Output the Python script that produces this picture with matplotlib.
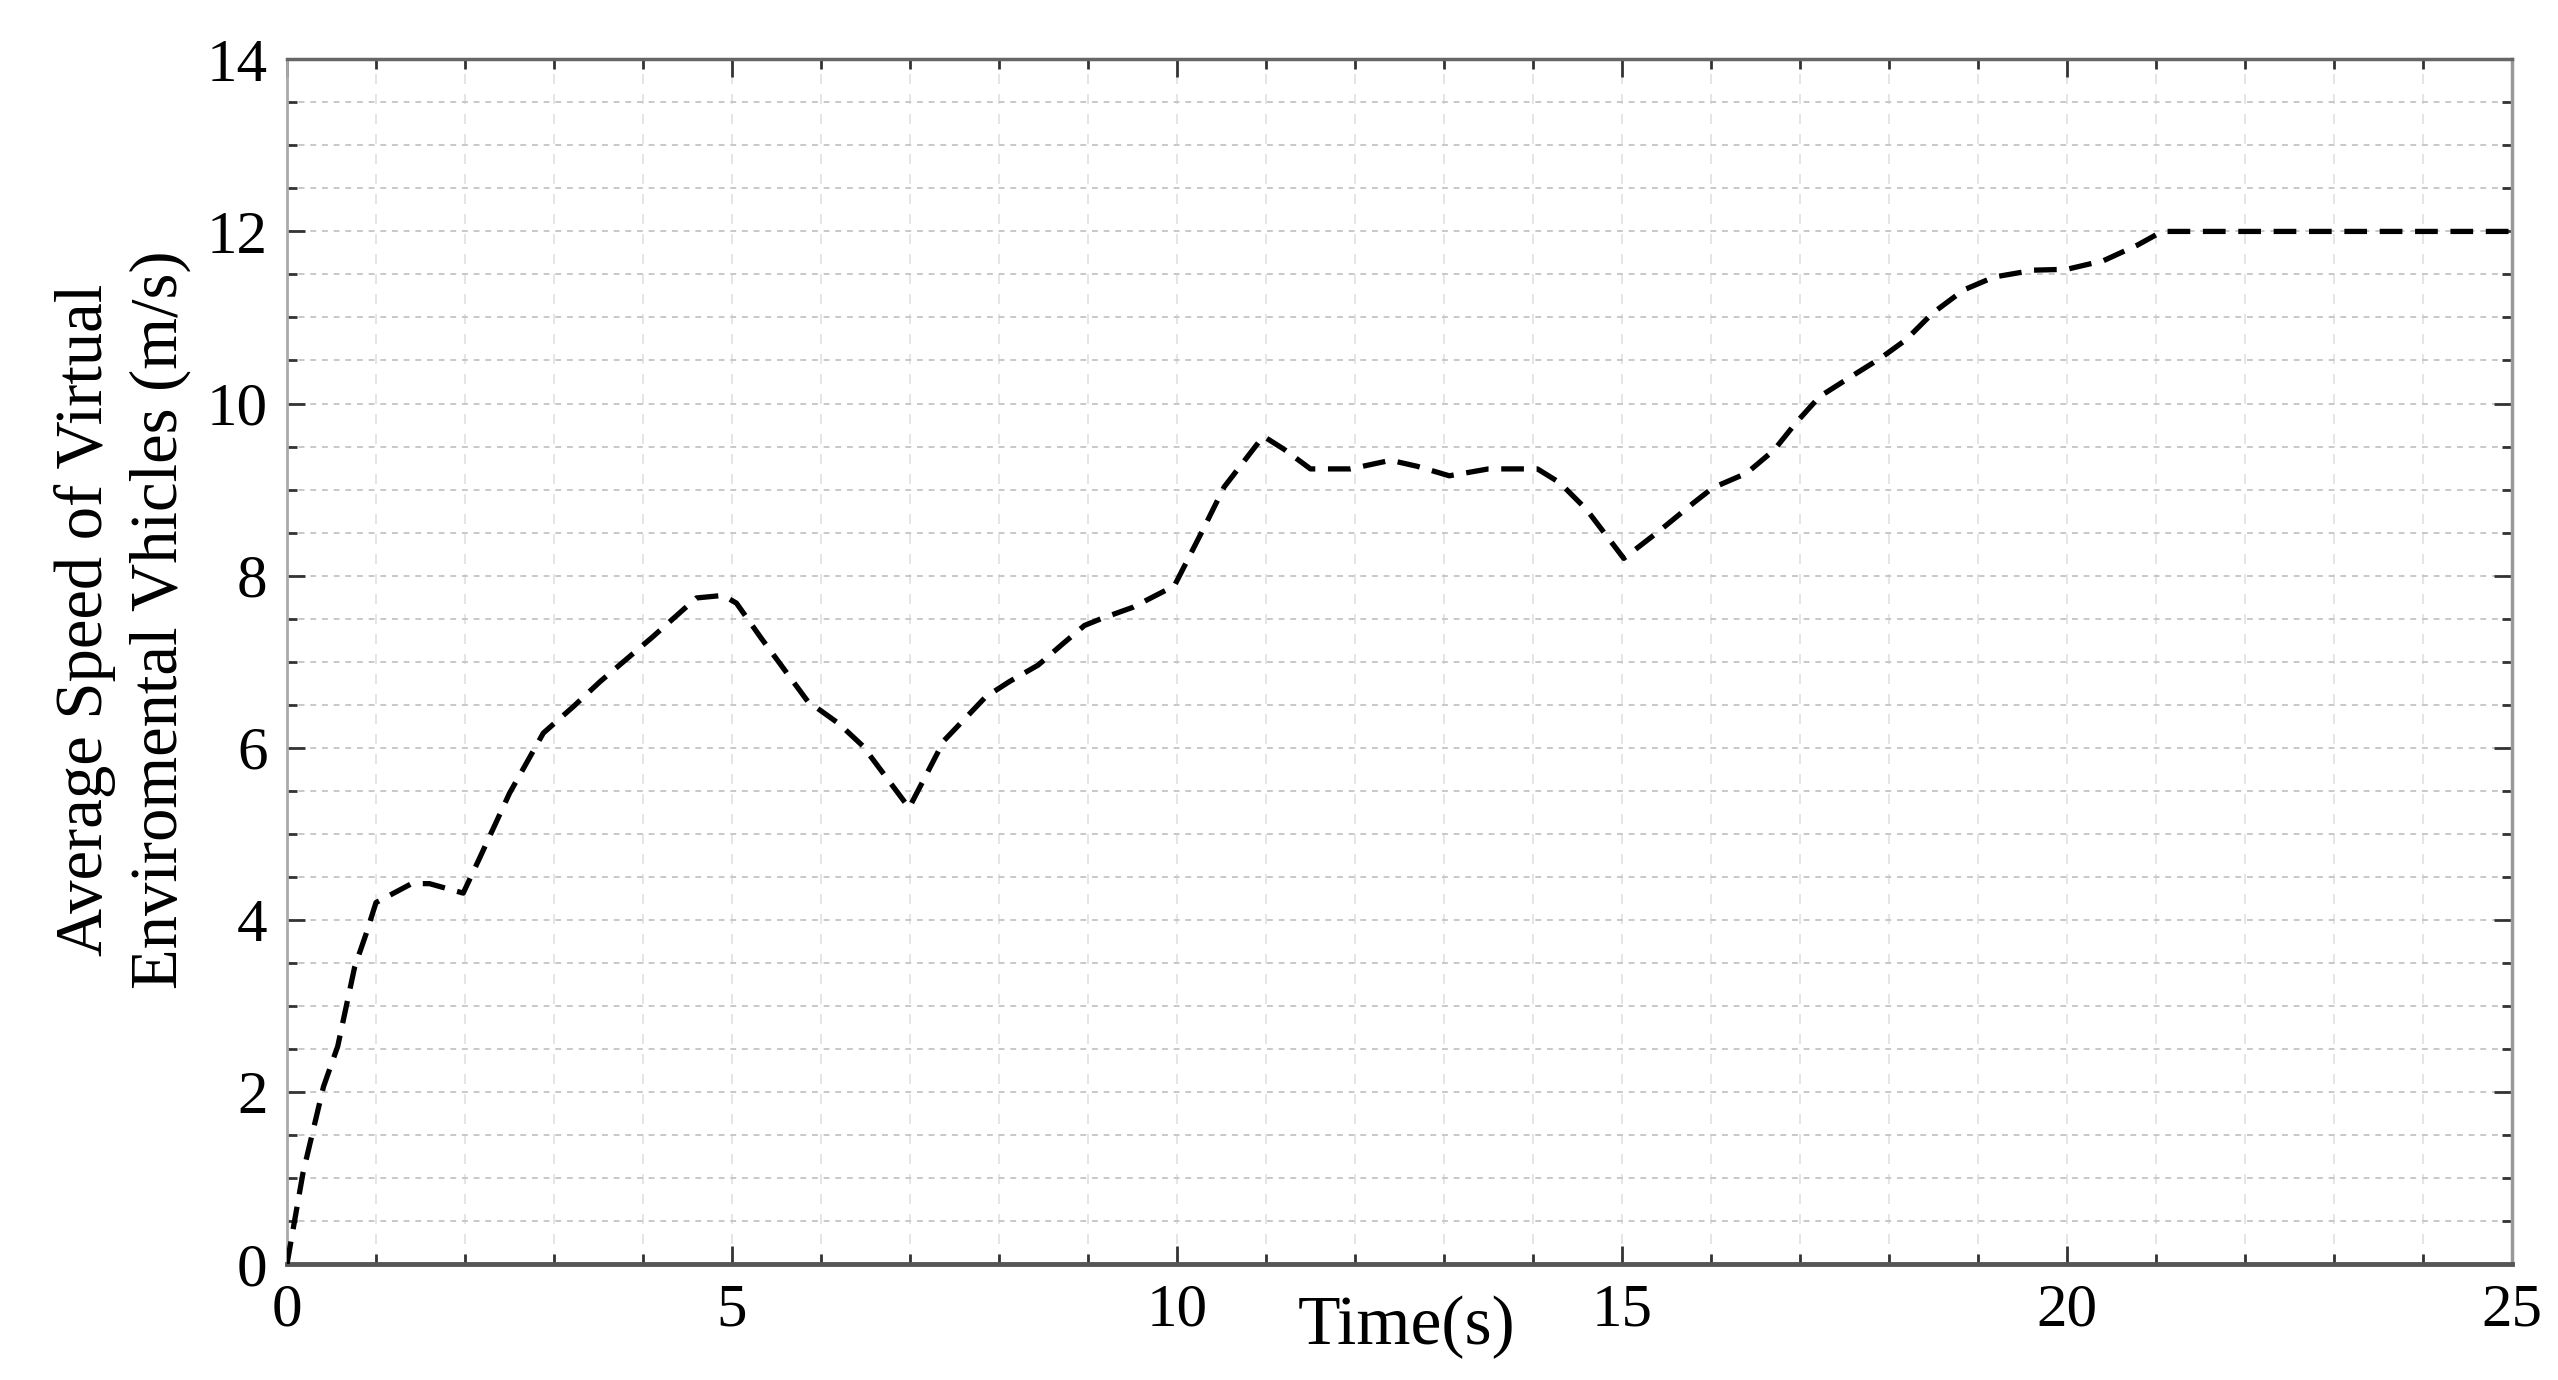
"""Average speed of virtual environmental vehicles over time (MATLAB-style figure)."""

import matplotlib
matplotlib.use("Agg")
import matplotlib.pyplot as plt
from matplotlib.ticker import MultipleLocator

# Values
time_s = [0, 0.18, 0.41, 0.57, 0.76, 0.89, 1.0, 1.4, 1.6, 1.98, 2.17, 2.5,
          2.88, 3.22, 3.52, 4.1, 4.6, 4.9, 5.05, 5.33, 5.85, 6.2, 6.47, 6.99,
          7.38, 7.85, 8.12, 8.44, 8.72, 8.96, 9.15, 9.5, 9.97, 10.3, 10.53,
          10.97, 11.2, 11.5, 11.95, 12.4, 12.7, 13.06, 13.5, 14.05, 14.3,
          14.6, 15.02, 15.42, 15.81, 16.02, 16.4, 16.71, 16.95, 17.22, 17.57,
          17.91, 18.19, 18.49, 18.84, 19.18, 19.63, 20.0, 20.41, 20.79, 21.07,
          25]
avg_speed = [0, 1.06, 2.06, 2.53, 3.45, 3.84, 4.2, 4.42, 4.42, 4.31, 4.73, 5.47,
             6.17, 6.48, 6.77, 7.28, 7.74, 7.77, 7.68, 7.27, 6.54, 6.28, 6.02, 5.3,
             6.08, 6.59, 6.77, 6.96, 7.21, 7.42, 7.5, 7.63, 7.88, 8.55, 9.03,
             9.62, 9.47, 9.24, 9.24, 9.34, 9.27, 9.16, 9.24, 9.24, 9.08,
             8.77, 8.2, 8.52, 8.85, 9.02, 9.19, 9.46, 9.77, 10.08, 10.31,
             10.53, 10.74, 11.05, 11.32, 11.47, 11.55, 11.56, 11.66, 11.84, 12.0,
             12.0]

x_ticks = [0, 5, 10, 15, 20, 25]
y_ticks = [0, 2, 4, 6, 8, 10, 12, 14]

plt.rcParams["font.family"] = ["Liberation Serif", "DejaVu Serif"]

fig = plt.figure(figsize=(25.58, 13.8), dpi=100)
ax = fig.add_axes([0.1122, 0.0841, 0.8698, 0.8729])

ax.plot(time_s, avg_speed, color="black", linewidth=3.8,
        linestyle=(0, (4.3, 2.4)), zorder=3)

ax.set_xlim(0, 25)
ax.set_ylim(0, 14)
ax.set_xticks(x_ticks)
ax.set_yticks(y_ticks)
ax.xaxis.set_minor_locator(MultipleLocator(1))
ax.yaxis.set_minor_locator(MultipleLocator(0.5))

# light dashed grid, MATLAB "grid minor" look
ax.yaxis.grid(True, which="both", linestyle=(0, (3, 3)), color="#c8c8c8", linewidth=1.4)
ax.xaxis.grid(True, which="both", linestyle=(0, (6, 6)), color="#e0e0e0", linewidth=1.2)
ax.set_axisbelow(True)

ax.tick_params(which="both", direction="in", top=True, right=True, colors="#333333",
               labelcolor="black")
ax.tick_params(which="major", length=13, width=2, labelsize=44, pad=14)
ax.tick_params(which="minor", length=7, width=2)

ax.spines["bottom"].set_color("#555555")
ax.spines["bottom"].set_linewidth(3.5)
ax.spines["top"].set_color("#666666")
ax.spines["top"].set_linewidth(2.5)
ax.spines["left"].set_color("#aaaaaa")
ax.spines["left"].set_linewidth(2)
ax.spines["right"].set_color("#999999")
ax.spines["right"].set_linewidth(2.5)

ax.set_xlabel("Time(s)", fontsize=50)
ax.xaxis.set_label_coords(0.503, -0.026)
ax.set_ylabel("Average Speed of Virtual\nEnviromental Vhicles (m/s)", fontsize=48,
              linespacing=1.3)
ax.yaxis.set_label_coords(-0.043, 0.535)

fig.savefig("out.png", dpi=100)
